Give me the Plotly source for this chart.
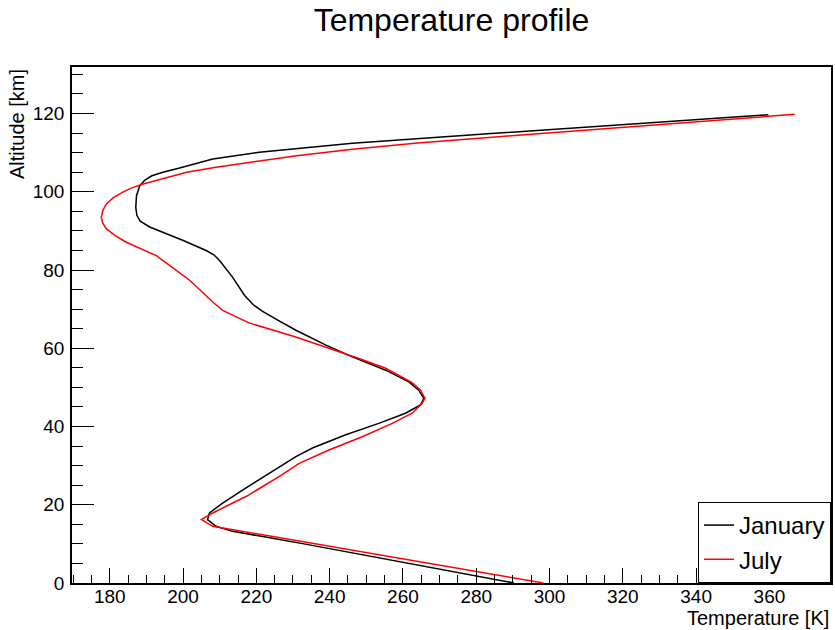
import plotly.graph_objects as go

# January profile (altitude km, temperature K)
jan_alt = [0, 2, 4, 6, 8, 10, 12, 13.2, 14.5, 16.2, 17.9, 20.4, 24.3, 28.5, 32.3, 34.5,
           37.9, 40.8, 43.4, 45.5, 47.2, 49.3, 51.4, 54.4, 57.8, 60.8, 64.6, 67, 69.5,
           71, 72.2, 73.5, 78.2, 82.5, 83.9, 85, 87.6, 91, 92.5, 94, 96, 99, 101.6, 103,
           104.1, 105, 106, 107.2, 108.4, 110.1, 112.4, 115, 119.7]
jan_temp = [290.3, 279, 267.5, 256, 244.5, 233, 221, 213.5, 209, 206.7, 207.2, 210.8,
            217.2, 224.4, 230.8, 235.3, 244.4, 253.4, 260.7, 264.8, 265.7, 264.3, 261.6,
            255.3, 246.2, 239, 230.8, 226.2, 221.6, 219.3, 218, 216.8, 213.5, 209.9, 208.4,
            206.3, 199.9, 190.9, 188.3, 187.4, 187.1, 187.3, 188.2, 189.6, 191.5, 194.5,
            198.8, 203.5, 208.1, 220.8, 246.2, 286.1, 359.7]

# July profile
jul_alt = [0, 4, 8, 12, 14.5, 16.2, 17.9, 20.9, 22.1, 27.2, 30.6, 34, 37.4, 40.8, 43.4,
           45.9, 47.2, 49.3, 51.2, 54.9, 57.4, 60, 63, 66.5, 69.7, 71.5, 77.4, 81.2,
           83.7, 87.1, 88.8, 90.5, 92, 93.5, 95.2, 96.9, 98.5, 99.9, 101, 102, 103.7, 105,
           106.3, 107.7, 109.2, 110.9, 112.5, 114.1, 119.8]
jul_temp = [298.3, 273.4, 248.5, 223.7, 208.1, 205, 208.1, 214.5, 217.2, 226.2, 231.7,
            239.8, 248.9, 257.1, 262.5, 265.2, 266, 264.8, 262.5, 255.3, 248, 239.8,
            230.3, 218, 210.8, 208.5, 201.8, 196.3, 192.7, 184.5, 181.5, 179.1, 178.1,
            177.7, 178.1, 179.1, 181, 183.6, 186, 189.1, 195.5, 201, 209, 219, 231, 246.2,
            264, 286.1, 366.9]

series_names = ["January", "July"]
series_colors = ["#000000", "#ff0000"]

FONT = "Liberation Sans, Arial, Helvetica, sans-serif"

fig = go.Figure()
fig.add_trace(go.Scatter(x=jan_temp, y=jan_alt, mode="lines", name=series_names[0],
                         line=dict(color=series_colors[0], width=1.5)))
fig.add_trace(go.Scatter(x=jul_temp, y=jul_alt, mode="lines", name=series_names[1],
                         line=dict(color=series_colors[1], width=1.5)))

fig.update_layout(
    width=835, height=630,
    margin=dict(l=72, r=2, t=67, b=47),
    paper_bgcolor="white", plot_bgcolor="white",
    font=dict(family=FONT, color="black"),
    title=dict(text="Temperature profile", x=0.5, xref="paper", xanchor="center",
               y=1 - 20 / 630, yref="container", yanchor="middle",
               font=dict(size=32, family=FONT, color="black")),
    showlegend=True,
    legend=dict(x=1, y=0, xanchor="right", yanchor="bottom", xref="paper", yref="paper",
                bordercolor="black", borderwidth=1, bgcolor="white",
                font=dict(size=24, family=FONT, color="black"),
                tracegroupgap=0, itemwidth=30),
)

fig.update_xaxes(
    range=[169.7, 376.8], showgrid=False, zeroline=False,
    showline=True, linecolor="black", linewidth=1.5, mirror=True,
    ticks="inside", ticklen=15, tickwidth=1.2, tickcolor="black",
    tick0=0, dtick=20, tickfont=dict(size=19, family=FONT, color="black"),
    ticklabelstandoff=-5,
    minor=dict(ticks="inside", ticklen=8, dtick=5, tick0=0, tickcolor="black", tickwidth=1.2,
               showgrid=False),
)
fig.update_yaxes(
    range=[0, 131.9], showgrid=False, zeroline=False,
    showline=True, linecolor="black", linewidth=1.5, mirror=True,
    ticks="inside", ticklen=22, tickwidth=1.2, tickcolor="black",
    tick0=0, dtick=20, tickfont=dict(size=19, family=FONT, color="black"),
    ticklabelstandoff=2,
    minor=dict(ticks="inside", ticklen=11, dtick=5, tick0=0, tickcolor="black", tickwidth=1.2,
               showgrid=False),
)

fig.add_annotation(text="Temperature [K]", xref="paper", yref="paper", x=1, y=0,
                   xanchor="right", yanchor="middle", yshift=-35, showarrow=False,
                   font=dict(size=20, family=FONT, color="black"))
fig.add_annotation(text="Altitude [km]", xref="paper", yref="paper", x=0, y=1,
                   xanchor="center", yanchor="top", xshift=-55, textangle=-90,
                   showarrow=False, font=dict(size=20, family=FONT, color="black"))

fig.write_html("out.html")
